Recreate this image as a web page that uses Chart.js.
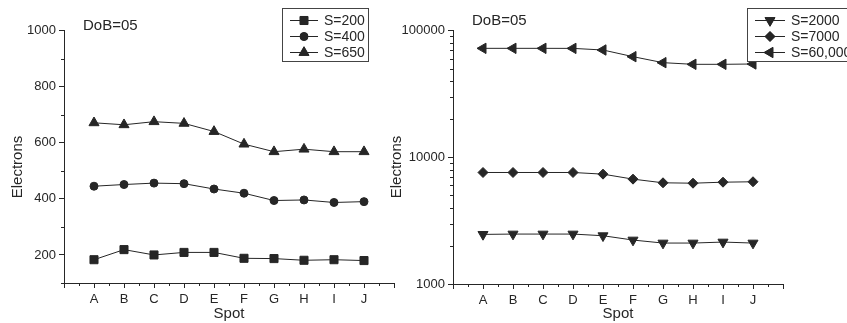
<!DOCTYPE html>
<html>
<head>
<meta charset="utf-8">
<script src="https://cdn.jsdelivr.net/npm/chart.js@4.4.0/dist/chart.umd.min.js"></script>
<style>
  html, body { margin: 0; padding: 0; background: #fff; }
  #wrap { position: relative; width: 847px; height: 323px; overflow: hidden; background: #fff; }
  canvas { position: absolute; top: 0; }
  #left { left: 0; }
  #right { left: 380px; }
</style>
</head>
<body>
<div id="wrap">
  <canvas id="left" width="420" height="323"></canvas>
  <canvas id="right" width="467" height="323"></canvas>
</div>
<script>
const spots = ['A', 'B', 'C', 'D', 'E', 'F', 'G', 'H', 'I', 'J'];

// left panel (linear)
const s200 = [183, 219, 200, 209, 209, 188, 187, 181, 183, 180];
const s400 = [445, 451, 456, 454, 435, 420, 394, 396, 387, 390];
const s650 = [671, 664, 675, 669, 640, 595, 568, 577, 568, 568];
const leftTicks = [200, 400, 600, 800, 1000];
const leftMinor = [100, 300, 500, 700, 900];

// right panel (log)
const s2000 = [2464, 2479, 2479, 2479, 2405, 2223, 2105, 2105, 2143, 2105];
const s7000 = [7594, 7594, 7594, 7594, 7368, 6729, 6296, 6250, 6368, 6414];
const s60000 = [72560, 72560, 72560, 72500, 70400, 62370, 55930, 54270, 54270, 54600];
const rightTicks = [1000, 10000, 100000];
const rightMinor = [2000, 3000, 4000, 5000, 6000, 7000, 8000, 9000,
  20000, 30000, 40000, 50000, 60000, 70000, 80000, 90000];

const FONT = 'Liberation Sans, Arial, sans-serif';
const INK = '#262626';

function series(label, values, style, radius, rotation) {
  return {
    label: label,
    data: values.map((v, i) => ({ x: i + 1, y: v })),
    borderColor: INK,
    borderWidth: 1,
    pointStyle: style,
    pointRadius: radius,
    pointRotation: rotation || 0,
    pointBackgroundColor: INK,
    pointBorderColor: INK,
    pointBorderWidth: 1,
    tension: 0
  };
}

// minor ticks, rotated y title, DoB note and framed legend
const extras = {
  id: 'extras',
  afterDraw(chart, args, opts) {
    const ctx = chart.ctx;
    const xs = chart.scales.x, ys = chart.scales.y;
    ctx.save();
    ctx.strokeStyle = INK;
    ctx.lineWidth = 1;
    ctx.beginPath();
    for (let v = 0.5; v < 11; v += 1) {
      const px = Math.round(xs.getPixelForValue(v)) + 0.5;
      ctx.moveTo(px, xs.top);
      ctx.lineTo(px, xs.top + 3);
    }
    opts.minor.forEach(v => {
      const py = Math.round(ys.getPixelForValue(v)) + 0.5;
      ctx.moveTo(ys.right, py);
      ctx.lineTo(ys.right - 3, py);
    });
    ctx.stroke();

    ctx.fillStyle = INK;
    ctx.font = '15px ' + FONT;
    ctx.textBaseline = 'middle';
    ctx.textAlign = 'left';
    ctx.fillText('DoB=05', opts.note.x, opts.note.y);

    ctx.save();
    ctx.translate(opts.ytitle.x, opts.ytitle.y);
    ctx.rotate(-Math.PI / 2);
    ctx.textAlign = 'center';
    ctx.fillText('Electrons', 0, 0);
    ctx.restore();

    const lg = opts.legend;
    ctx.fillStyle = '#fff';
    ctx.fillRect(lg.x, lg.y, lg.w, lg.h);
    ctx.strokeStyle = '#444';
    ctx.strokeRect(lg.x + 0.5, lg.y + 0.5, lg.w, lg.h);
    ctx.font = '14px ' + FONT;
    chart.data.datasets.forEach((ds, i) => {
      const y = lg.y + 12 + i * 16;
      ctx.strokeStyle = INK;
      ctx.beginPath();
      ctx.moveTo(lg.x + 8, y + 0.5);
      ctx.lineTo(lg.x + 8 + lg.line, y + 0.5);
      ctx.stroke();
      ctx.fillStyle = INK;
      Chart.helpers.drawPoint(ctx, {
        pointStyle: ds.pointStyle,
        rotation: ds.pointRotation,
        radius: ds.pointRadius,
        borderWidth: 1
      }, lg.x + 8 + lg.line / 2, y + 0.5);
      ctx.fill();
      ctx.fillStyle = INK;
      ctx.textAlign = 'left';
      ctx.fillText(ds.label, lg.x + 14 + lg.line, y + 1);
    });
    ctx.restore();
  }
};

function makeChart(id, datasets, yOpts, yWidth, xHeight, padding, extraOpts) {
  return new Chart(document.getElementById(id), {
    type: 'line',
    data: { datasets: datasets },
    options: {
      responsive: false,
      animation: false,
      layout: { padding: padding },
      plugins: { legend: { display: false }, tooltip: { enabled: false }, extras: extraOpts },
      scales: {
        x: {
          type: 'linear',
          min: 0,
          max: 11,
          afterBuildTicks: s => { s.ticks = Array.from({ length: 12 }, (_, i) => ({ value: i })); },
          afterFit: s => { s.height = xHeight; },
          ticks: {
            autoSkip: false,
            maxRotation: 0,
            padding: 4,
            color: INK,
            font: { family: FONT, size: 13 },
            callback: v => spots[v - 1] || ''
          },
          grid: { drawOnChartArea: false, tickLength: 5, tickColor: INK },
          border: { color: INK, width: 1 },
          title: {
            display: true,
            text: 'Spot',
            color: INK,
            font: { family: FONT, size: 15 },
            padding: { top: 0, bottom: 0 }
          }
        },
        y: Object.assign({
          afterFit: s => { s.width = yWidth; },
          grid: { drawOnChartArea: false, tickLength: 5, tickColor: INK },
          border: { color: INK, width: 1 }
        }, yOpts)
      }
    },
    plugins: [extras]
  });
}

makeChart('left', [
  series('S=200', s200, 'rect', 5.7),
  series('S=400', s400, 'circle', 4),
  series('S=650', s650, 'triangle', 5.8)
], {
  type: 'linear',
  min: 100,
  max: 1000,
  afterBuildTicks: s => { s.ticks = leftTicks.map(v => ({ value: v })); },
  ticks: { padding: 3, color: INK, font: { family: FONT, size: 13 }, callback: v => String(v) }
}, 64, 40, { top: 30.5, right: 26, left: 0, bottom: 0 }, {
  minor: leftMinor,
  note: { x: 83, y: 26 },
  ytitle: { x: 18, y: 167 },
  legend: { x: 282, y: 8, w: 86, h: 53, line: 28 }
});

makeChart('right', [
  series('S=2000', s2000, 'triangle', 5.8, 180),
  series('S=7000', s7000, 'rectRot', 5),
  series('S=60,000', s60000, 'triangle', 6, -90)
], {
  type: 'logarithmic',
  min: 1000,
  max: 100000,
  afterBuildTicks: s => { s.ticks = rightTicks.map(v => ({ value: v })); },
  ticks: { padding: 3, color: INK, font: { family: FONT, size: 13 }, callback: v => String(v) }
}, 73, 39, { top: 30.7, right: 64, left: 0, bottom: 0 }, {
  minor: rightMinor,
  note: { x: 92, y: 21 },
  ytitle: { x: 17, y: 167 },
  legend: { x: 367, y: 8, w: 120, h: 53, line: 30 }
});
</script>
</body>
</html>
